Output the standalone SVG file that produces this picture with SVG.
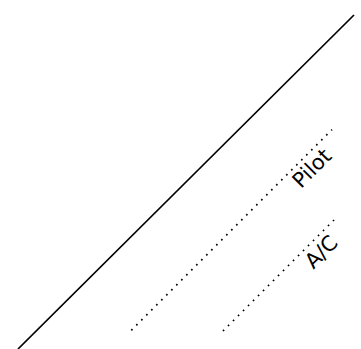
<svg xmlns="http://www.w3.org/2000/svg" width="361" height="349" viewBox="0 0 361 349">
<style>
.solid{stroke:#000;stroke-width:1.7;fill:none}
.dot{stroke:#000;stroke-width:1.7;fill:none;stroke-dasharray:1.6 5.47}
.lbl{font-family:"DejaVu Sans",sans-serif;font-size:21px;fill:#000;text-anchor:middle}
</style>
<g id="connectors">
<line class="solid" x1="18" y1="349" x2="354" y2="15"/>
<line class="dot" x1="131.3" y1="330.3" x2="332" y2="129.6"/>
<line class="dot" x1="223" y1="331" x2="334" y2="220"/>
</g>
<g id="pilot"><text class="lbl" transform="translate(316.8,173.3) rotate(-45)">Pilot</text></g>
<g id="ac"><text class="lbl" transform="translate(326.3,257) rotate(-45)">A/C</text></g>
</svg>
